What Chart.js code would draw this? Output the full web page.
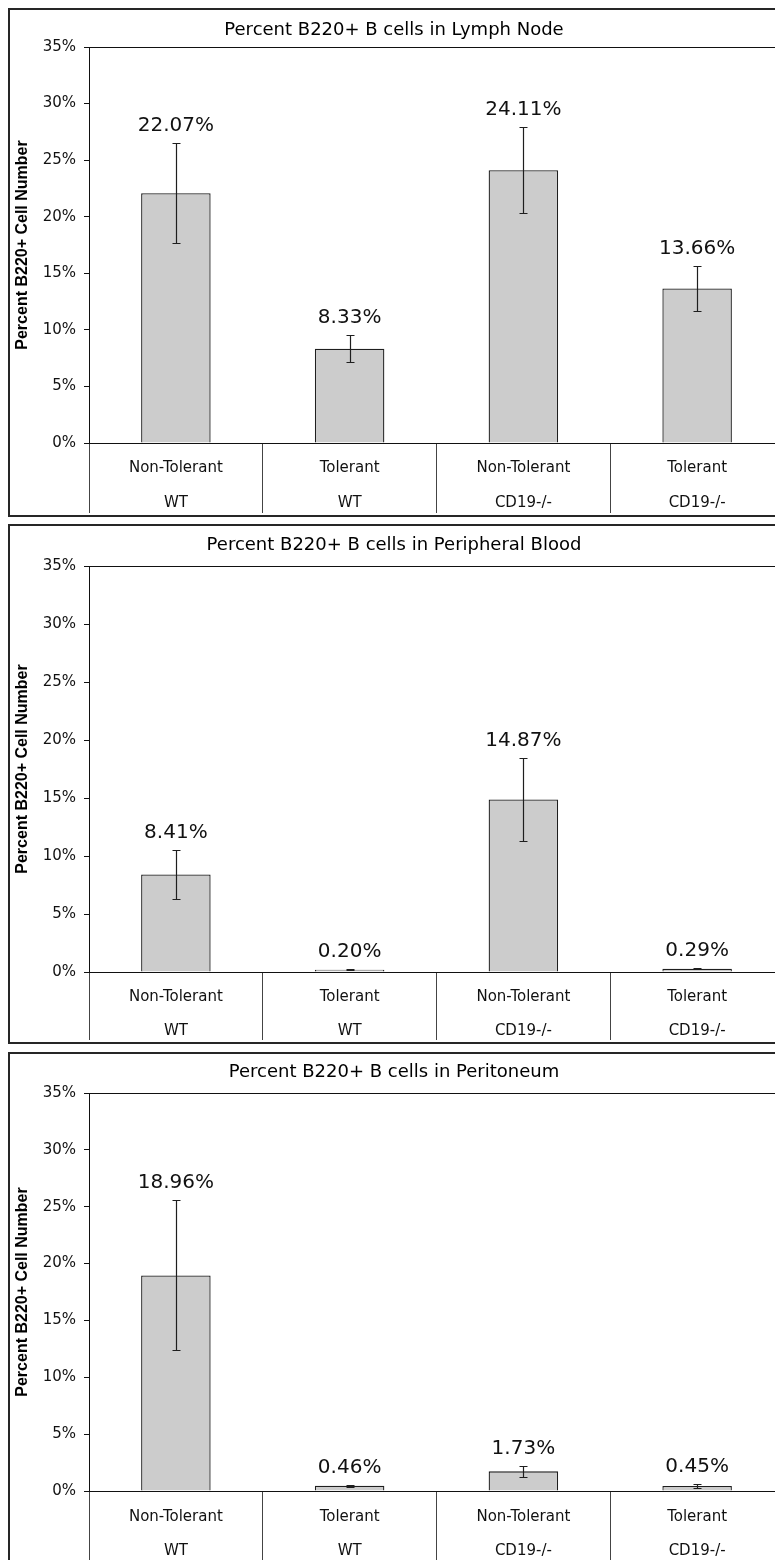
<!DOCTYPE html>
<html>
<head>
<meta charset="utf-8">
<script src="https://cdn.jsdelivr.net/npm/chart.js@4.4.1/dist/chart.umd.min.js"></script>
<style>
  html, body { margin: 0; padding: 0; background: #fff; overflow: hidden; width: 775px; height: 1560px; }
  .panel { position: absolute; left: 8px; width: 790px; border: 2px solid #262626; background: #fff; }
  .panel canvas { display: block; }
</style>
</head>
<body>
<div class="panel" style="top:8px;height:505px"><canvas id="lymph" width="790" height="505"></canvas></div>
<div class="panel" style="top:524px;height:516px"><canvas id="blood" width="790" height="516"></canvas></div>
<div class="panel" style="top:1052px;height:510px"><canvas id="perit" width="790" height="510"></canvas></div>
<script>
// Groups along the category axis
const conditions = ['Non-Tolerant', 'Tolerant', 'Non-Tolerant', 'Tolerant'];
const genotypes  = ['WT', 'WT', 'CD19-/-', 'CD19-/-'];

// Percent B220+ cells (mean) and error (±) per tissue
const lymphNode      = [22.07, 8.33, 24.11, 13.66];
const lymphNodeErr   = [4.42, 1.18, 3.82, 2.00];
const blood          = [8.41, 0.20, 14.87, 0.29];
const bloodErr       = [2.14, 0.05, 3.59, 0.07];
const peritoneum     = [18.96, 0.46, 1.73, 0.45];
const peritoneumErr  = [6.60, 0.10, 0.50, 0.15];

// y axis ticks
const yMin = 0, yMax = 35, yStep = 5;

const FONT = 'DejaVu Sans';

// Error bars, value labels and panel title
const annotate = {
  id: 'annotate',
  afterDatasetsDraw(chart, args, opts) {
    const { ctx } = chart;
    const y = chart.scales.y;
    const ds = chart.data.datasets[0];
    const meta = chart.getDatasetMeta(0);
    ctx.save();
    ctx.strokeStyle = '#1e1e1e';
    ctx.lineWidth = 1.2;
    ctx.fillStyle = '#111';
    ctx.font = '20px "' + FONT + '"';
    ctx.textAlign = 'center';
    ctx.textBaseline = 'middle';
    meta.data.forEach((bar, i) => {
      const v = ds.data[i], e = ds.errors[i];
      const x = Math.round(bar.x) + 0.5;
      const yt = Math.round(y.getPixelForValue(v + e)) + 0.5;
      const yb = Math.round(y.getPixelForValue(v - e)) + 0.5;
      ctx.beginPath();
      ctx.moveTo(x, yt); ctx.lineTo(x, yb);
      ctx.moveTo(x - 4, yt); ctx.lineTo(x + 4, yt);
      ctx.moveTo(x - 4, yb); ctx.lineTo(x + 4, yb);
      ctx.stroke();
      ctx.fillText(v.toFixed(2) + '%', bar.x, yt - 18);
    });
    ctx.font = '18px "' + FONT + '"';
    ctx.fillStyle = '#000';
    ctx.fillText(opts.text, opts.x, opts.y);
    ctx.restore();
  }
};

function buildChart(id, title, values, errors, frame) {
  return new Chart(document.getElementById(id), {
    type: 'bar',
    data: {
      labels: conditions.map((c, i) => [c, genotypes[i]]),
      datasets: [{
        data: values,
        errors: errors,
        backgroundColor: '#cccccc',
        borderColor: '#1e1e1e',
        borderWidth: 1.3,
        barPercentage: 0.4,
        categoryPercentage: 1
      }]
    },
    options: {
      responsive: false,
      animation: false,
      events: [],
      layout: { padding: { top: frame.plotTop, right: 16, left: 0, bottom: 0 } },
      plugins: {
        legend: { display: false },
        tooltip: { enabled: false },
        annotate: { text: title, x: 384, y: frame.titleY }
      },
      scales: {
        x: {
          grid: {
            offset: true,
            drawOnChartArea: false,
            drawTicks: true,
            tickLength: frame.sepLength,
            tickColor: '#444',
            color: '#444',
            lineWidth: 1
          },
          border: { color: '#111', width: 1 },
          ticks: {
            autoSkip: false,
            maxRotation: 0,
            color: '#111',
            font: { family: FONT, size: 15, lineHeight: frame.rowGap / 15 },
            padding: frame.firstRow - frame.sepLength - frame.rowGap / 2
          },
          afterFit: s => { s.height = frame.axisHeight; }
        },
        y: {
          min: yMin,
          max: yMax,
          ticks: {
            stepSize: yStep,
            callback: v => v + '%',
            color: '#111',
            font: { family: FONT, size: 15 },
            padding: 8
          },
          grid: {
            drawOnChartArea: true,
            color: c => (c.tick && c.tick.value === yMax) ? '#111' : 'rgba(0,0,0,0)',
            tickColor: '#111',
            tickLength: 5,
            lineWidth: 1
          },
          border: { color: '#111', width: 1 },
          title: {
            display: true,
            text: 'Percent B220+ Cell Number',
            color: '#000',
            font: { family: 'Liberation Sans', size: 16, weight: 'bold' },
            padding: { top: 3, bottom: 0 }
          },
          afterFit: s => { s.width = 79; }
        }
      }
    },
    plugins: [annotate]
  });
}

buildChart('lymph', 'Percent B220+ B cells in Lymph Node', lymphNode, lymphNodeErr,
  { plotTop: 37, axisHeight: 72, sepLength: 70, firstRow: 25, rowGap: 35, titleY: 20 });
buildChart('blood', 'Percent B220+ B cells in Peripheral Blood', blood, bloodErr,
  { plotTop: 40, axisHeight: 70, sepLength: 68, firstRow: 25, rowGap: 34, titleY: 19 });
buildChart('perit', 'Percent B220+ B cells in Peritoneum', peritoneum, peritoneumErr,
  { plotTop: 39, axisHeight: 73, sepLength: 71, firstRow: 26, rowGap: 34, titleY: 18 });
</script>
</body>
</html>
